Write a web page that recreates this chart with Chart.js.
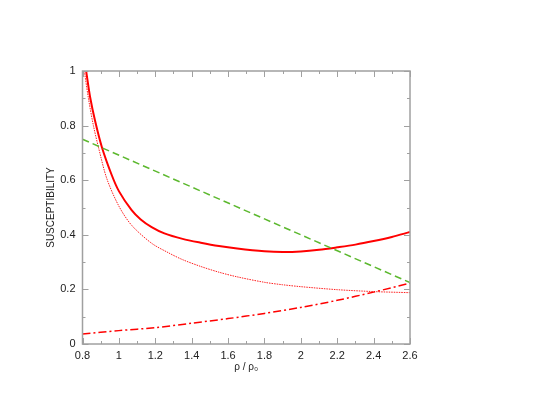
<!DOCTYPE html>
<html>
<head>
<meta charset="utf-8">
<script src="https://cdn.jsdelivr.net/npm/chart.js@4/dist/chart.umd.min.js"></script>
<style>
  body { margin: 0; background: #fff; }
  canvas { display: block; }
</style>
</head>
<body>
<canvas id="cadre" width="537" height="415"></canvas>
<script>
// solid curve
const solidX = [0.82, 0.843, 0.87, 0.907, 0.96, 1.0, 1.07, 1.12, 1.18, 1.25, 1.35, 1.45, 1.55, 1.65, 1.8, 1.9, 2.0, 2.1, 2.2, 2.3, 2.4, 2.5, 2.6];
const solidY = [1.0, 0.90, 0.815, 0.72, 0.62, 0.56, 0.49, 0.456, 0.428, 0.405, 0.385, 0.371, 0.359, 0.35, 0.34, 0.337, 0.339, 0.345, 0.354, 0.364, 0.377, 0.392, 0.41];

// dotted curve
const dotX = [0.81, 0.834, 0.86, 0.889, 0.934, 1.0, 1.07, 1.18, 1.27, 1.35, 1.45, 1.55, 1.65, 1.8, 1.9, 2.0, 2.2, 2.4, 2.6];
const dotY = [1.0, 0.894, 0.80, 0.717, 0.605, 0.505, 0.435, 0.369, 0.335, 0.309, 0.284, 0.263, 0.246, 0.226, 0.217, 0.21, 0.199, 0.192, 0.188];

// dash-dot curve
const dashDotX = [0.8, 1.0, 1.2, 1.4, 1.6, 1.8, 2.0, 2.2, 2.4, 2.6];
const dashDotY = [0.037, 0.049, 0.06, 0.076, 0.093, 0.112, 0.134, 0.16, 0.19, 0.223];

// green dashed line
const greenX = [0.8, 2.6];
const greenY = [0.75, 0.225];

const xMin = 0.8, xMax = 2.6;
const yMin = 0, yMax = 1;

function pts(xs, ys) {
  return xs.map((x, i) => ({ x: x, y: ys[i] }));
}

// gnuplot style frame with inward ticks on all four sides
const frameTicks = {
  id: "frameTicks",
  afterDraw(chart) {
    const ctx = chart.ctx;
    const a = chart.chartArea;
    const sx = chart.scales.x;
    const sy = chart.scales.y;
    ctx.save();
    ctx.strokeStyle = "#a0a0a0";
    ctx.lineWidth = 1.5;
    ctx.strokeRect(a.left, a.top, a.right - a.left, a.bottom - a.top);
    ctx.lineWidth = 1;
    for (let i = 0; i <= 18; i++) {
      let v = xMin + i * 0.1;
      let px = Math.round(sx.getPixelForValue(v)) + 0.5;
      let len = i % 2 === 0 ? 6 : 3;
      ctx.beginPath();
      ctx.moveTo(px, a.bottom);
      ctx.lineTo(px, a.bottom - len);
      ctx.moveTo(px, a.top);
      ctx.lineTo(px, a.top + len);
      ctx.stroke();
    }
    for (let i = 0; i <= 10; i++) {
      let v = yMin + i * 0.1;
      let py = Math.round(sy.getPixelForValue(v)) + 0.5;
      let len = i % 2 === 0 ? 6 : 3;
      ctx.beginPath();
      ctx.moveTo(a.left, py);
      ctx.lineTo(a.left + len, py);
      ctx.moveTo(a.right, py);
      ctx.lineTo(a.right - len, py);
      ctx.stroke();
    }
    ctx.restore();
  }
};

let canvas = document.getElementById("cadre");
const ctx = canvas.getContext("2d");

const chart = new Chart(ctx, {
  type: "scatter",
  data: {
    datasets: [
      {
        data: pts(greenX, greenY),
        showLine: true,
        borderColor: "#5cb82e",
        borderWidth: 1.5,
        borderDash: [7, 4],
        pointRadius: 0,
      },
      {
        data: pts(dashDotX, dashDotY),
        showLine: true,
        borderColor: "#ff0000",
        borderWidth: 1.5,
        borderDash: [8, 3, 2, 3],
        tension: 0.3,
        pointRadius: 0,
      },
      {
        data: pts(dotX, dotY),
        showLine: true,
        borderColor: "#ff2020",
        borderWidth: 1,
        borderDash: [1.5, 1],
        tension: 0.3,
        pointRadius: 0,
      },
      {
        data: pts(solidX, solidY),
        showLine: true,
        borderColor: "#ff0000",
        borderWidth: 2,
        tension: 0.3,
        pointRadius: 0,
      },
    ],
  },
  options: {
    responsive: false,
    animation: false,
    layout: { padding: { left: 41, right: 127, top: 71, bottom: 38 } },
    plugins: {
      legend: { display: false },
      tooltip: { enabled: false },
    },
    scales: {
      x: {
        type: "linear",
        min: xMin,
        max: xMax,
        afterFit: (s) => { s.height = 33; },
        grid: { drawOnChartArea: false, drawTicks: false },
        border: { display: false },
        ticks: {
          stepSize: 0.2,
          padding: 5,
          color: "#222",
          font: { family: "Liberation Sans", size: 11 },
          callback: (v) => Math.round(v * 10) / 10,
        },
        title: {
          display: true,
          text: "ρ / ρ₀",
          color: "#222",
          font: { family: "Liberation Sans", size: 10 },
          padding: { top: 0, bottom: 4 },
        },
      },
      y: {
        type: "linear",
        min: yMin,
        max: yMax,
        afterFit: (s) => { s.width = 41.5; },
        grid: { drawOnChartArea: false, drawTicks: false },
        border: { display: false },
        ticks: {
          stepSize: 0.2,
          padding: 7,
          color: "#222",
          font: { family: "Liberation Sans", size: 11 },
          callback: (v) => Math.round(v * 10) / 10,
        },
        title: {
          display: true,
          text: "SUSCEPTIBILITY",
          color: "#222",
          font: { family: "Liberation Sans", size: 10 },
          padding: { top: 4, bottom: 0 },
        },
      },
    },
  },
  plugins: [frameTicks],
});
</script>
</body>
</html>
